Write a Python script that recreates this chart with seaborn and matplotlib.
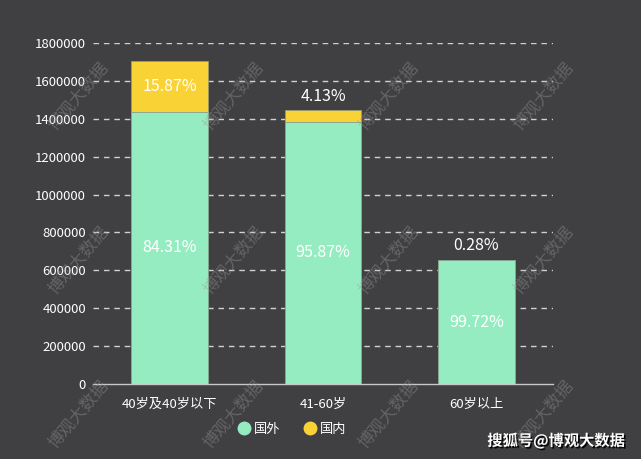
import matplotlib
matplotlib.use("Agg")
import matplotlib.pyplot as plt
import matplotlib.patheffects as pe
from matplotlib.lines import Line2D
import seaborn as sns
import pandas as pd

# ---- data ----
categories = ["40岁及40岁以下", "41-60岁", "60岁以上"]
foreign = [1435800, 1385000, 652700]      # 国外
domestic = [270300, 59700, 1830]          # 国内
foreign_pct = ["84.31%", "95.87%", "99.72%"]
domestic_pct = ["15.87%", "4.13%", "0.28%"]
series_names = ["国外", "国内"]
yticks = [0, 200000, 400000, 600000, 800000, 1000000, 1200000, 1400000, 1600000, 1800000]

BG = "#404043"
GREEN = "#95ecc1"
YELLOW = "#f9d236"

sns.set_theme(style="dark")
plt.rcParams["font.family"] = ["Noto Sans CJK SC", "DejaVu Sans"]

df = pd.DataFrame({
    "cat": categories,
    "foreign": foreign,
    "domestic": domestic,
})
df["total"] = df["foreign"] + df["domestic"]

fig = plt.figure(figsize=(6.41, 4.59), dpi=100, facecolor=BG)
ax = fig.add_axes([93 / 641, 1 - 384 / 459, 460 / 641, 341 / 459])
ax.set_facecolor(BG)

sns.barplot(data=df, x="cat", y="total", color=YELLOW, width=0.5, ax=ax,
            saturation=1, edgecolor="#9a9a70", linewidth=0.6, zorder=3)
sns.barplot(data=df, x="cat", y="foreign", color=GREEN, width=0.5, ax=ax,
            saturation=1, edgecolor="#80a090", linewidth=0.6, zorder=4)

ax.set_ylim(0, 1800000)
ax.set_xlim(-0.5, len(categories) - 0.5)
ax.set_yticks(yticks)
ax.set_yticklabels([str(v) for v in yticks])
ax.set_xlabel("")
ax.set_ylabel("")

# grid
for v in yticks[1:]:
    ax.axhline(v, color="#d0d0d0", lw=1, ls=(0, (4, 3.5)), zorder=1)
for s in ["top", "right", "left"]:
    ax.spines[s].set_visible(False)
ax.spines["bottom"].set_color("#c8c8c8")
ax.spines["bottom"].set_linewidth(1)
ax.grid(False)
ax.tick_params(axis="y", length=0, pad=5, labelsize=9.5, labelcolor="white")
ax.tick_params(axis="x", length=4, width=1, color="#c8c8c8", pad=6,
               labelsize=9.5, labelcolor="white", direction="out")

# value labels
for i in range(len(categories)):
    f = df["foreign"][i]
    d = df["domestic"][i]
    ax.text(i, f / 2, foreign_pct[i], ha="center", va="center",
            color="white", fontsize=11.5, zorder=6)
    if d > 150000:
        ax.text(i, f + d / 2, domestic_pct[i], ha="center", va="center",
                color="white", fontsize=11.5, zorder=6)
    else:
        ax.annotate(domestic_pct[i], (i, f + d), xytext=(0, 4),
                    textcoords="offset points", ha="center", va="bottom",
                    color="white", fontsize=11.5, zorder=6)

# legend
handles = [Line2D([], [], marker="o", ls="", markersize=9,
                  markerfacecolor=c, markeredgecolor=c) for c in (GREEN, YELLOW)]
leg = fig.legend(handles, series_names, loc="center",
                 bbox_to_anchor=(292 / 641, 1 - 429 / 459), ncol=2,
                 frameon=False, fontsize=9.5, handletextpad=0.3,
                 columnspacing=1.7, handlelength=1.0)
for t in leg.get_texts():
    t.set_color("white")

# watermarks
for yy in (96, 260, 414):
    for xx in (78, 233, 388, 543):
        fig.text(xx / 641, 1 - yy / 459, "博观大数据", rotation=50,
                 ha="center", va="center", fontsize=12,
                 color="#9a9a9a", alpha=0.4, zorder=10)

fig.text(556 / 641, 1 - 441 / 459, "搜狐号@博观大数据", ha="center", va="center",
         fontsize=11, fontweight="bold", color="white",
         path_effects=[pe.withSimplePatchShadow(offset=(1.2, -1.2),
                                                 shadow_rgbFace="black", alpha=0.9)])

fig.savefig("out.png", dpi=100, facecolor=BG)
